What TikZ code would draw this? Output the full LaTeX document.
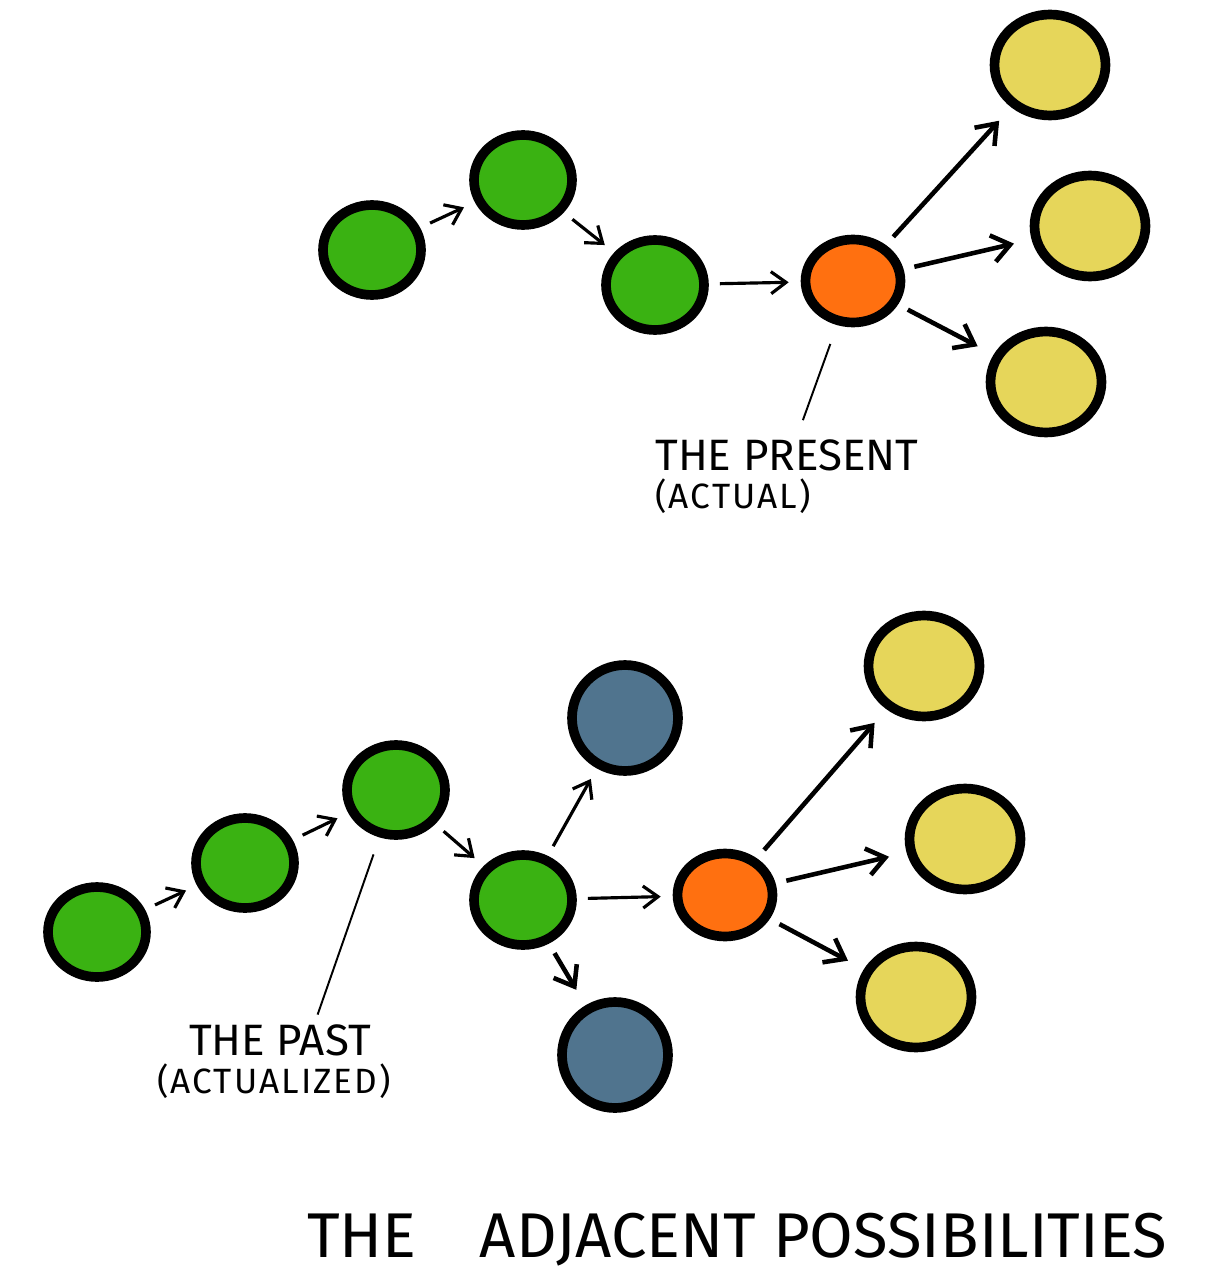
\documentclass[tikz,border=0pt]{standalone}
\usepackage{fontspec}
\setmainfont{Fira Sans}
\usepackage{tikz}
\usetikzlibrary{arrows.meta, shapes.geometric}
\usepackage{xcolor}
\definecolor{leafgreen}{RGB}{58,178,18}
\definecolor{nowOrange}{RGB}{255,112,16}
\definecolor{maybeYellow}{RGB}{230,214,90}
\definecolor{lostBlue}{RGB}{80,116,142}

\begin{document}
\begin{tikzpicture}[
        x=0.02cm, y=-0.02cm,
        dot/.style={ellipse, draw, line width=5.5pt, inner sep=0pt, minimum width=1.96cm, minimum height=1.8cm},
        done/.style={dot, fill=leafgreen},
        now/.style={dot, fill=nowOrange, minimum width=1.9cm, minimum height=1.66cm},
        maybe/.style={dot, fill=maybeYellow, minimum width=2.22cm, minimum height=2.02cm},
        lost/.style={dot, fill=lostBlue, minimum width=2.12cm, minimum height=2.12cm},
        arr/.style={-{Straight Barb[length=3mm, width=4.4mm]}, line width=1.8pt, shorten <=0.22cm, shorten >=0.24cm},
        bigarr/.style={arr, line width=2.6pt, -{Straight Barb[length=3.6mm, width=5.4mm]}, shorten >=0.36cm},
        pointer/.style={line width=1.1pt},
        desc/.style={inner sep=0pt, font=\fontsize{25}{27}\selectfont},
        sub/.style={inner sep=0pt, font=\fontsize{20}{22}\selectfont\addfontfeatures{LetterSpace=6}}
    ]
        \useasboundingbox (0,0) rectangle (1211,1287);

        % Top row: the present
        \node[done] (ta) at (372, 250) {};
        \node[done] (tb) at (523, 180) {};
        \node[done] (tc) at (655, 285) {};
        \node[now] (tnow) at (853, 281) {};
        \node[maybe] (ty1) at (1050, 65) {};
        \node[maybe] (ty2) at (1090, 226) {};
        \node[maybe] (ty3) at (1046, 382) {};

        \node[desc, anchor=west] (present) at (655, 455) {THE PRESENT};
        \node[sub, anchor=north west] (actual) at (655, 478) {(ACTUAL)};

        \draw[arr] (ta) -- (tb);
        \draw[arr] (tb) -- (tc);
        \draw[arr] (tc) -- (tnow);
        \draw[bigarr] (tnow) -- (ty1);
        \draw[bigarr] (tnow) -- (ty2);
        \draw[bigarr] (tnow) -- (ty3);
        \draw[pointer, shorten <=0.4cm, shorten >=0.4cm] (tnow) -- (present.60);

        % Bottom row: the past
        \node[done] (ba) at (97, 932) {};
        \node[done] (bb) at (245, 863) {};
        \node[done] (bc) at (396, 790) {};
        \node[done] (bd) at (523, 900) {};
        \node[lost] (bx1) at (625, 718) {};
        \node[lost] (bx2) at (615, 1055) {};
        \node[now] (bnow) at (725, 895) {};
        \node[maybe] (by1) at (924, 666) {};
        \node[maybe] (by2) at (965, 839) {};
        \node[maybe] (by3) at (916, 997) {};

        \node[desc] (pastlbl) at (280, 1040) {THE PAST};
        \node[sub] (actualized) at (274, 1081) {(ACTUALIZED)};

        \draw[arr] (ba) -- (bb);
        \draw[arr] (bb) -- (bc);
        \draw[arr] (bc) -- (bd);
        \draw[arr] (bd) -- (bx1);
        \draw[bigarr] (bd) -- (bx2);
        \draw[arr] (bd) -- (bnow);
        \draw[bigarr] (bnow) -- (by1);
        \draw[bigarr] (bnow) -- (by2);
        \draw[bigarr] (bnow) -- (by3);
        \draw[pointer, shorten <=0.36cm, shorten >=0.2cm] (bc) -- (pastlbl.25);

        % Title
        \node[inner sep=0pt, font=\fontsize{36}{40}\selectfont] (title) at (737, 1240) {THE\quad ADJACENT POSSIBILITIES};
\end{tikzpicture}
\end{document}
